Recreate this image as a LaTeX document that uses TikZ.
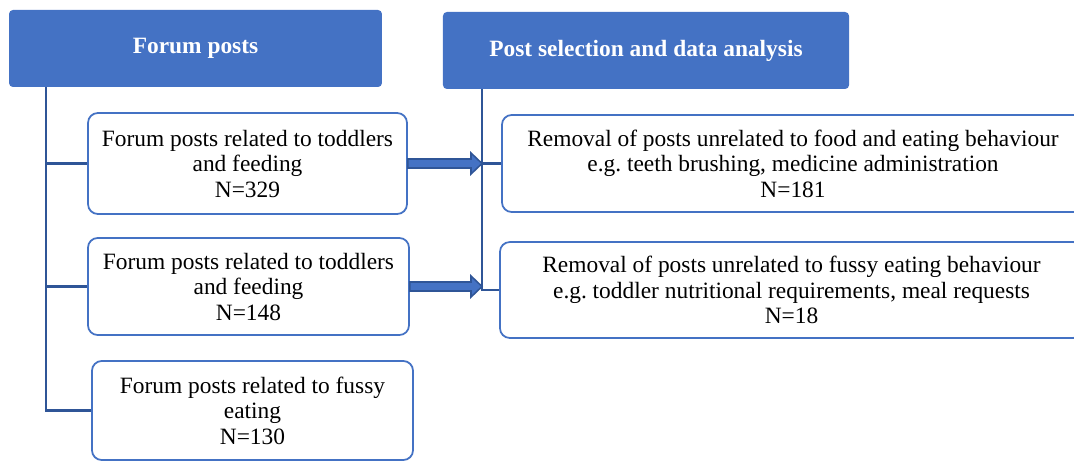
\documentclass[tikz,border=0pt]{standalone}
\usepackage{fontspec}
\setmainfont{Liberation Serif}
\usetikzlibrary{calc}
\definecolor{hdblue}{HTML}{4472C4}
\definecolor{lnblue}{HTML}{2F5597}
\tikzset{
  hdbox/.style={rectangle, rounded corners=2pt, fill=hdblue, text=white, font=\bfseries\fontsize{12}{13.1}\selectfont, inner sep=0pt},
  postbox/.style={rectangle, rounded corners=5pt, draw=hdblue, line width=0.9pt, fill=white, align=center, font=\fontsize{12}{13.1}\selectfont, inner sep=0pt, text depth=-2pt},
  trunk/.style={draw=lnblue, line width=1.2pt},
  blkarr/.style={draw=lnblue, fill=hdblue, line width=0.8pt, line join=miter}
}
\newcommand{\bigarrow}[2]{%
  \draw[blkarr] ($(#1)+(0,-4.5)$) -- ($(#2)+(-11,-4.5)$) -- ($(#2)+(-11,-10.5)$) -- (#2)
    -- ($(#2)+(-11,10.5)$) -- ($(#2)+(-11,4.5)$) -- ($(#1)+(0,4.5)$) -- cycle;}
\begin{document}
\begin{tikzpicture}[x=0.513pt, y=-0.513pt]
\useasboundingbox (0,0) rectangle (1074,462);
% headers
\node [hdbox, minimum width=191.3pt, minimum height=39.5pt] (hdA) at (195.5,48.5) {Forum posts};
\node [hdbox, minimum width=208.3pt, minimum height=39.5pt] (hdB) at (646,50.5) {Post selection and data analysis};
% left column
\node [postbox, minimum width=163.6pt, minimum height=51.8pt] (fpA) at (247.5,163.5) {Forum posts related to toddlers\\and feeding\\N=329};
\node [postbox, minimum width=164.7pt, minimum height=49.8pt] (fpB) at (248.5,286.5) {Forum posts related to toddlers\\and feeding\\N=148};
\node [postbox, minimum width=164.7pt, minimum height=50.8pt] (fpC) at (252.5,410.5) {Forum posts related to fussy\\eating\\N=130};
% right column
\node [postbox, minimum width=298.6pt, minimum height=49.8pt] (rmA) at (793,163.5) {Removal of posts unrelated to food and eating behaviour\\e.g.\ teeth brushing, medicine administration\\N=181};
\node [postbox, minimum width=299.1pt, minimum height=49.2pt] (rmB) at (791.5,290) {Removal of posts unrelated to fussy eating behaviour\\e.g.\ toddler nutritional requirements, meal requests\\N=18};
% trunks
\coordinate (ltop) at (hdA.south -| 46,0);
\coordinate (rtop) at (hdB.south -| 482,0);
\draw [trunk] (ltop) |- (fpC.west);
\draw [trunk] (ltop |- fpA.west) -- (fpA.west);
\draw [trunk] (ltop |- fpB.west) -- (fpB.west);
\draw [trunk] (rtop) |- (rmB.west);
\draw [trunk] (rtop |- rmA.west) -- (rmA.west);
% block arrows
\bigarrow{fpA.east}{fpA.east -| rtop}
\bigarrow{fpB.east}{fpB.east -| rtop}
\end{tikzpicture}
\end{document}
